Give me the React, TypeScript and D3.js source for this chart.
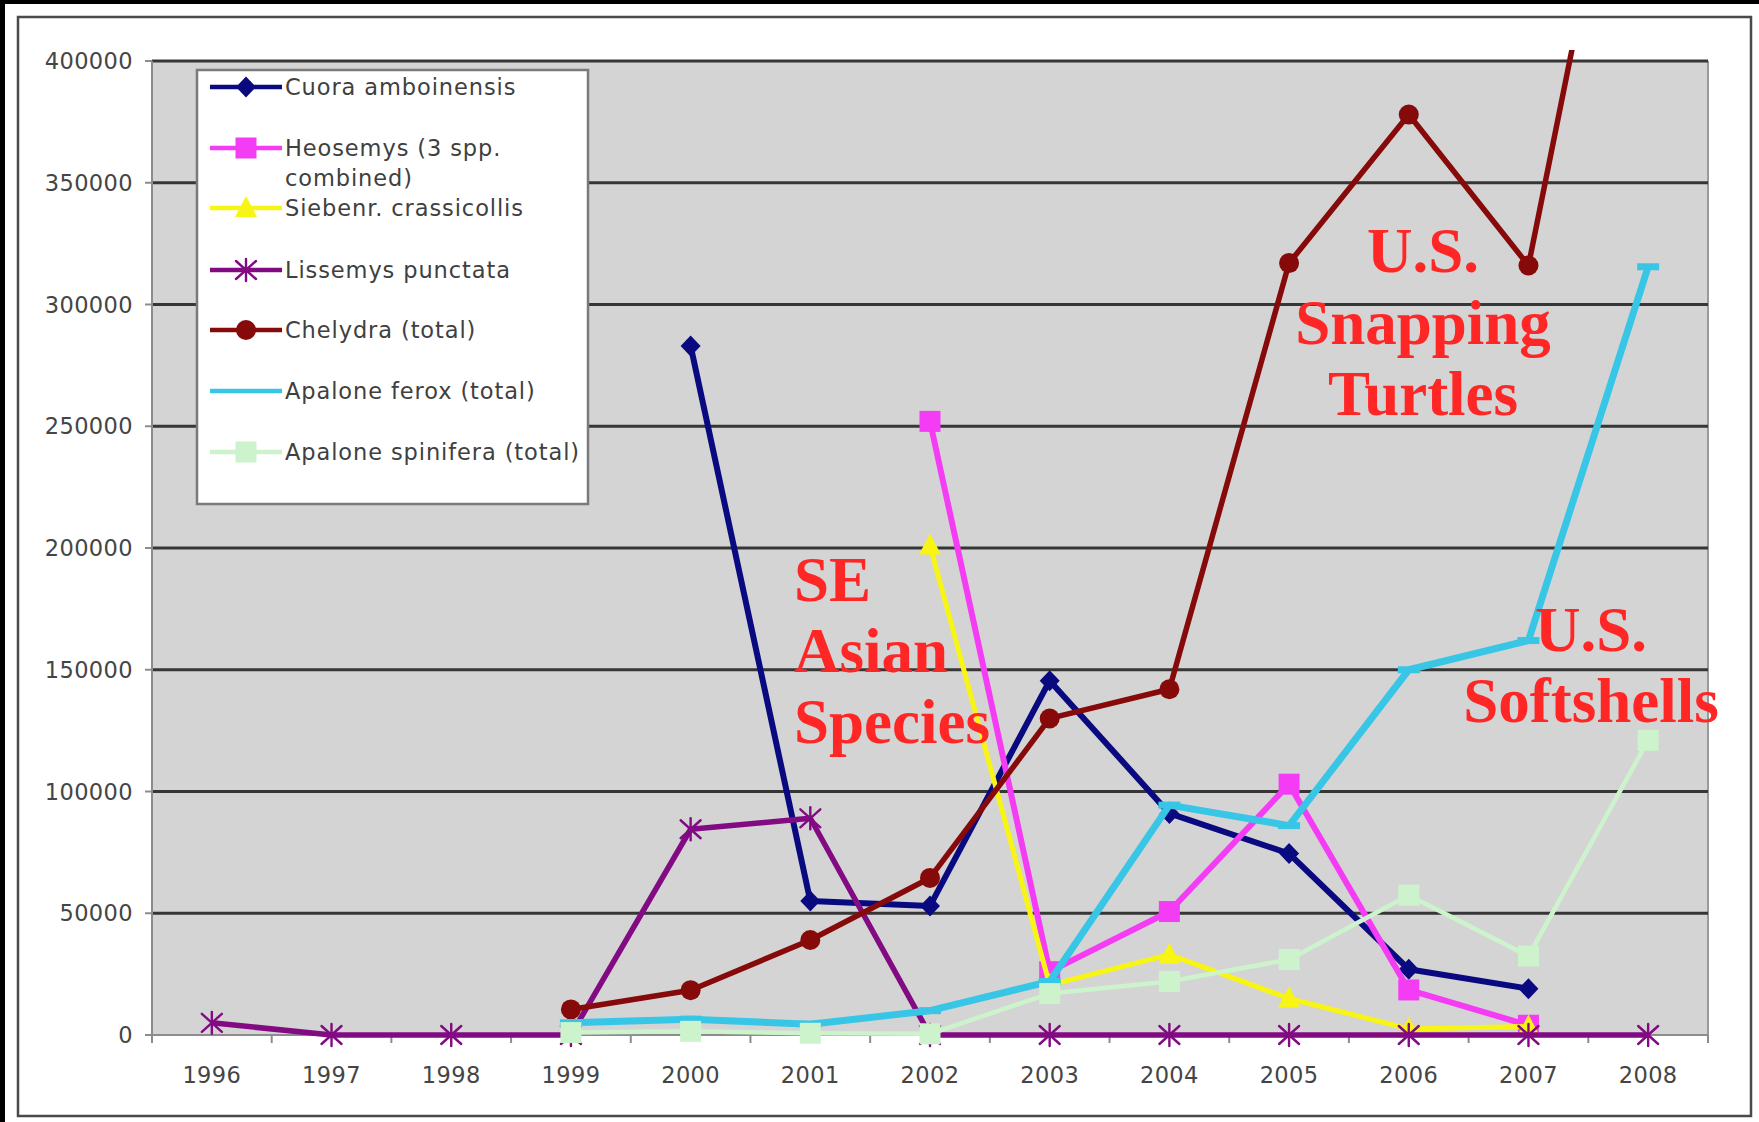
import { useEffect } from 'react';
import * as d3 from 'd3';

const YEARS = ['1996', '1997', '1998', '1999', '2000', '2001', '2002', '2003', '2004', '2005', '2006', '2007', '2008'];
const Y_TICKS = [0, 50000, 100000, 150000, 200000, 250000, 300000, 350000, 400000];

// values per year, null = no data that year
const CUORA = [null, null, null, null, 283000, 55000, 53000, 145500, 91000, 74500, 27000, 19000, null];
const HEOSEMYS = [null, null, null, null, null, null, 252000, 26000, 50700, 103000, 18500, 4000, null];
const SIEBENR = [null, null, null, null, null, null, 201000, 20500, 33000, 15000, 2500, 3500, null];
const LISSEMYS = [5000, 0, 0, 0, 84500, 89000, 0, 0, 0, 0, 0, 0, 0];
const CHELYDRA = [null, null, null, 10500, 18400, 39000, 64500, 130000, 142000, 317000, 378000, 316000, 560000];
const FEROX = [null, null, null, 5000, 6500, 4400, 10000, 22000, 94400, 86000, 150000, 162000, 315500];
const SPINIFERA = [null, null, null, 1000, 1500, 700, 500, 17000, 22000, 31000, 57400, 32400, 121000];

type Marker = 'diamond' | 'square' | 'triangle' | 'asterisk' | 'circle' | 'dash';

interface Series {
  name: string[];
  values: (number | null)[];
  color: string;
  width: number;
  marker: Marker;
  legendMarker: boolean;
}

const SERIES: Series[] = [
  { name: ['Cuora amboinensis'], values: CUORA, color: '#0a0a80', width: 6, marker: 'diamond', legendMarker: true },
  { name: ['Heosemys (3 spp.', 'combined)'], values: HEOSEMYS, color: '#f53cf5', width: 6, marker: 'square', legendMarker: true },
  { name: ['Siebenr. crassicollis'], values: SIEBENR, color: '#f8f514', width: 5, marker: 'triangle', legendMarker: true },
  { name: ['Lissemys punctata'], values: LISSEMYS, color: '#820a82', width: 5.5, marker: 'asterisk', legendMarker: true },
  { name: ['Chelydra (total)'], values: CHELYDRA, color: '#860a0a', width: 5.5, marker: 'circle', legendMarker: true },
  { name: ['Apalone ferox (total)'], values: FEROX, color: '#38c6e6', width: 7, marker: 'dash', legendMarker: false },
  { name: ['Apalone spinifera (total)'], values: SPINIFERA, color: '#cdf3cd', width: 4.5, marker: 'square', legendMarker: true },
];

const W = 1759;
const H = 1122;
const M = { left: 152, right: 1708, top: 61, bottom: 1035 };

function MarkerShape({ kind, x, y, color }: { kind: Marker; x: number; y: number; color: string }) {
  switch (kind) {
    case 'diamond':
      return <path d={`M${x},${y - 10.5}L${x + 10},${y}L${x},${y + 10.5}L${x - 10},${y}Z`} fill={color} />;
    case 'square':
      return <rect x={x - 10.5} y={y - 10.5} width={21} height={21} fill={color} />;
    case 'triangle':
      return <path d={`M${x},${y - 12}L${x + 11},${y + 9}L${x - 11},${y + 9}Z`} fill={color} />;
    case 'circle':
      return <circle cx={x} cy={y} r={10} fill={color} />;
    case 'dash':
      return <rect x={x - 11} y={y - 3.5} width={22} height={7} fill={color} />;
    case 'asterisk':
      return (
        <g stroke={color} strokeWidth={2.4} strokeLinecap="round">
          <line x1={x} y1={y - 11} x2={x} y2={y + 11} />
          <line x1={x - 10} y1={y - 9} x2={x + 10} y2={y + 9} />
          <line x1={x - 10} y1={y + 9} x2={x + 10} y2={y - 9} />
        </g>
      );
  }
}

export default function App() {
  useEffect(() => {
    document.body.style.margin = '0';
  }, []);

  const x = d3.scaleBand<string>().domain(YEARS).range([M.left, M.right]).padding(0);
  const cx = (year: string) => (x(year) ?? 0) + x.bandwidth() / 2;
  const y = d3.scaleLinear().domain([0, 400000]).range([M.bottom, M.top]);

  const line = d3
    .line<number | null>()
    .defined((d) => d !== null)
    .x((_, i) => cx(YEARS[i]))
    .y((d) => y(d as number));

  const boundaries = YEARS.map((yr) => x(yr) ?? 0).concat([M.right]);
  const font = 'DejaVu Sans, Verdana, sans-serif';
  const red = '#ff2626';
  const serif = 'Liberation Serif, Times New Roman, serif';

  const legendRows = [87, 148, 208, 270, 330, 391, 452];

  return (
    <svg width={W} height={H} style={{ display: 'block' }} fontFamily={font}>
      <defs>
        <clipPath id="plot-clip">
          <rect x={M.left} y={M.top - 11} width={M.right - M.left} height={M.bottom - M.top + 30} />
        </clipPath>
      </defs>
      <rect width={W} height={H} fill="#ffffff" />
      <rect x={0} y={0} width={W} height={4} fill="#000" />
      <rect x={0} y={0} width={5} height={H} fill="#000" />
      <rect x={18} y={17} width={1733} height={1099} fill="none" stroke="#4a4a4a" strokeWidth={2.5} />

      {/* plot area */}
      <rect x={M.left} y={M.top} width={M.right - M.left} height={M.bottom - M.top} fill="#d4d4d4" />
      <line x1={M.right} x2={M.right} y1={M.top} y2={M.bottom} stroke="#9a9a9a" strokeWidth={2} />
      {Y_TICKS.filter((t) => t > 0).map((t) => (
        <line key={t} x1={M.left} x2={M.right} y1={y(t)} y2={y(t)} stroke="#363636" strokeWidth={3.2} />
      ))}
      <line x1={M.left} x2={M.left} y1={M.top} y2={M.bottom} stroke="#8c8c8c" strokeWidth={2} />
      <line x1={M.left} x2={M.right} y1={M.bottom} y2={M.bottom} stroke="#8c8c8c" strokeWidth={2} />

      {/* y axis */}
      {Y_TICKS.map((t) => (
        <g key={t}>
          <line x1={M.left - 7} x2={M.left} y1={y(t)} y2={y(t)} stroke="#8c8c8c" strokeWidth={2} />
          <text x={133} y={y(t)} dy="0.36em" textAnchor="end" fontSize={22.5} letterSpacing={0.4} fill="#454545">
            {t}
          </text>
        </g>
      ))}

      {/* x axis */}
      {boundaries.map((b, i) => (
        <line key={i} x1={b} x2={b} y1={M.bottom} y2={M.bottom + 8} stroke="#8c8c8c" strokeWidth={2} />
      ))}
      {YEARS.map((yr) => (
        <text key={yr} x={cx(yr)} y={1083} textAnchor="middle" fontSize={22.5} letterSpacing={0.4} fill="#454545">
          {yr}
        </text>
      ))}

      {/* series */}
      <g clipPath="url(#plot-clip)">
        {SERIES.map((s) => (
          <g key={s.name[0]}>
            <path d={line(s.values) ?? ''} fill="none" stroke={s.color} strokeWidth={s.width} strokeLinejoin="round" />
            {s.values.map((v, i) =>
              v === null || y(v) < M.top - 5 ? null : (
                <MarkerShape key={i} kind={s.marker} x={cx(YEARS[i])} y={y(v)} color={s.color} />
              )
            )}
          </g>
        ))}
      </g>

      {/* legend */}
      <rect x={197} y={70} width={391} height={434} fill="#ffffff" stroke="#7a7a7a" strokeWidth={2.5} />
      {SERIES.map((s, i) => (
        <g key={s.name[0]}>
          <line x1={210} x2={282} y1={legendRows[i]} y2={legendRows[i]} stroke={s.color} strokeWidth={4.5} />
          {s.legendMarker && <MarkerShape kind={s.marker} x={246} y={legendRows[i]} color={s.color} />}
          {s.name.map((n, j) => (
            <text key={n} x={285} y={legendRows[i] + j * 30} dy="0.36em" fontSize={22.5} letterSpacing={0.9} fill="#404040">
              {n}
            </text>
          ))}
        </g>
      ))}

      {/* annotations */}
      <g fill={red} fontFamily={serif} fontWeight="bold" fontSize={63}>
        <text x={794} y={601}>SE</text>
        <text x={794} y={672}>Asian</text>
        <text x={794} y={743}>Species</text>
        <text x={1423} y={272} textAnchor="middle">U.S.</text>
        <text x={1423} y={344} textAnchor="middle">Snapping</text>
        <text x={1423} y={415} textAnchor="middle">Turtles</text>
        <text x={1591} y={651} textAnchor="middle">U.S.</text>
        <text x={1591} y={722} textAnchor="middle">Softshells</text>
      </g>
    </svg>
  );
}
